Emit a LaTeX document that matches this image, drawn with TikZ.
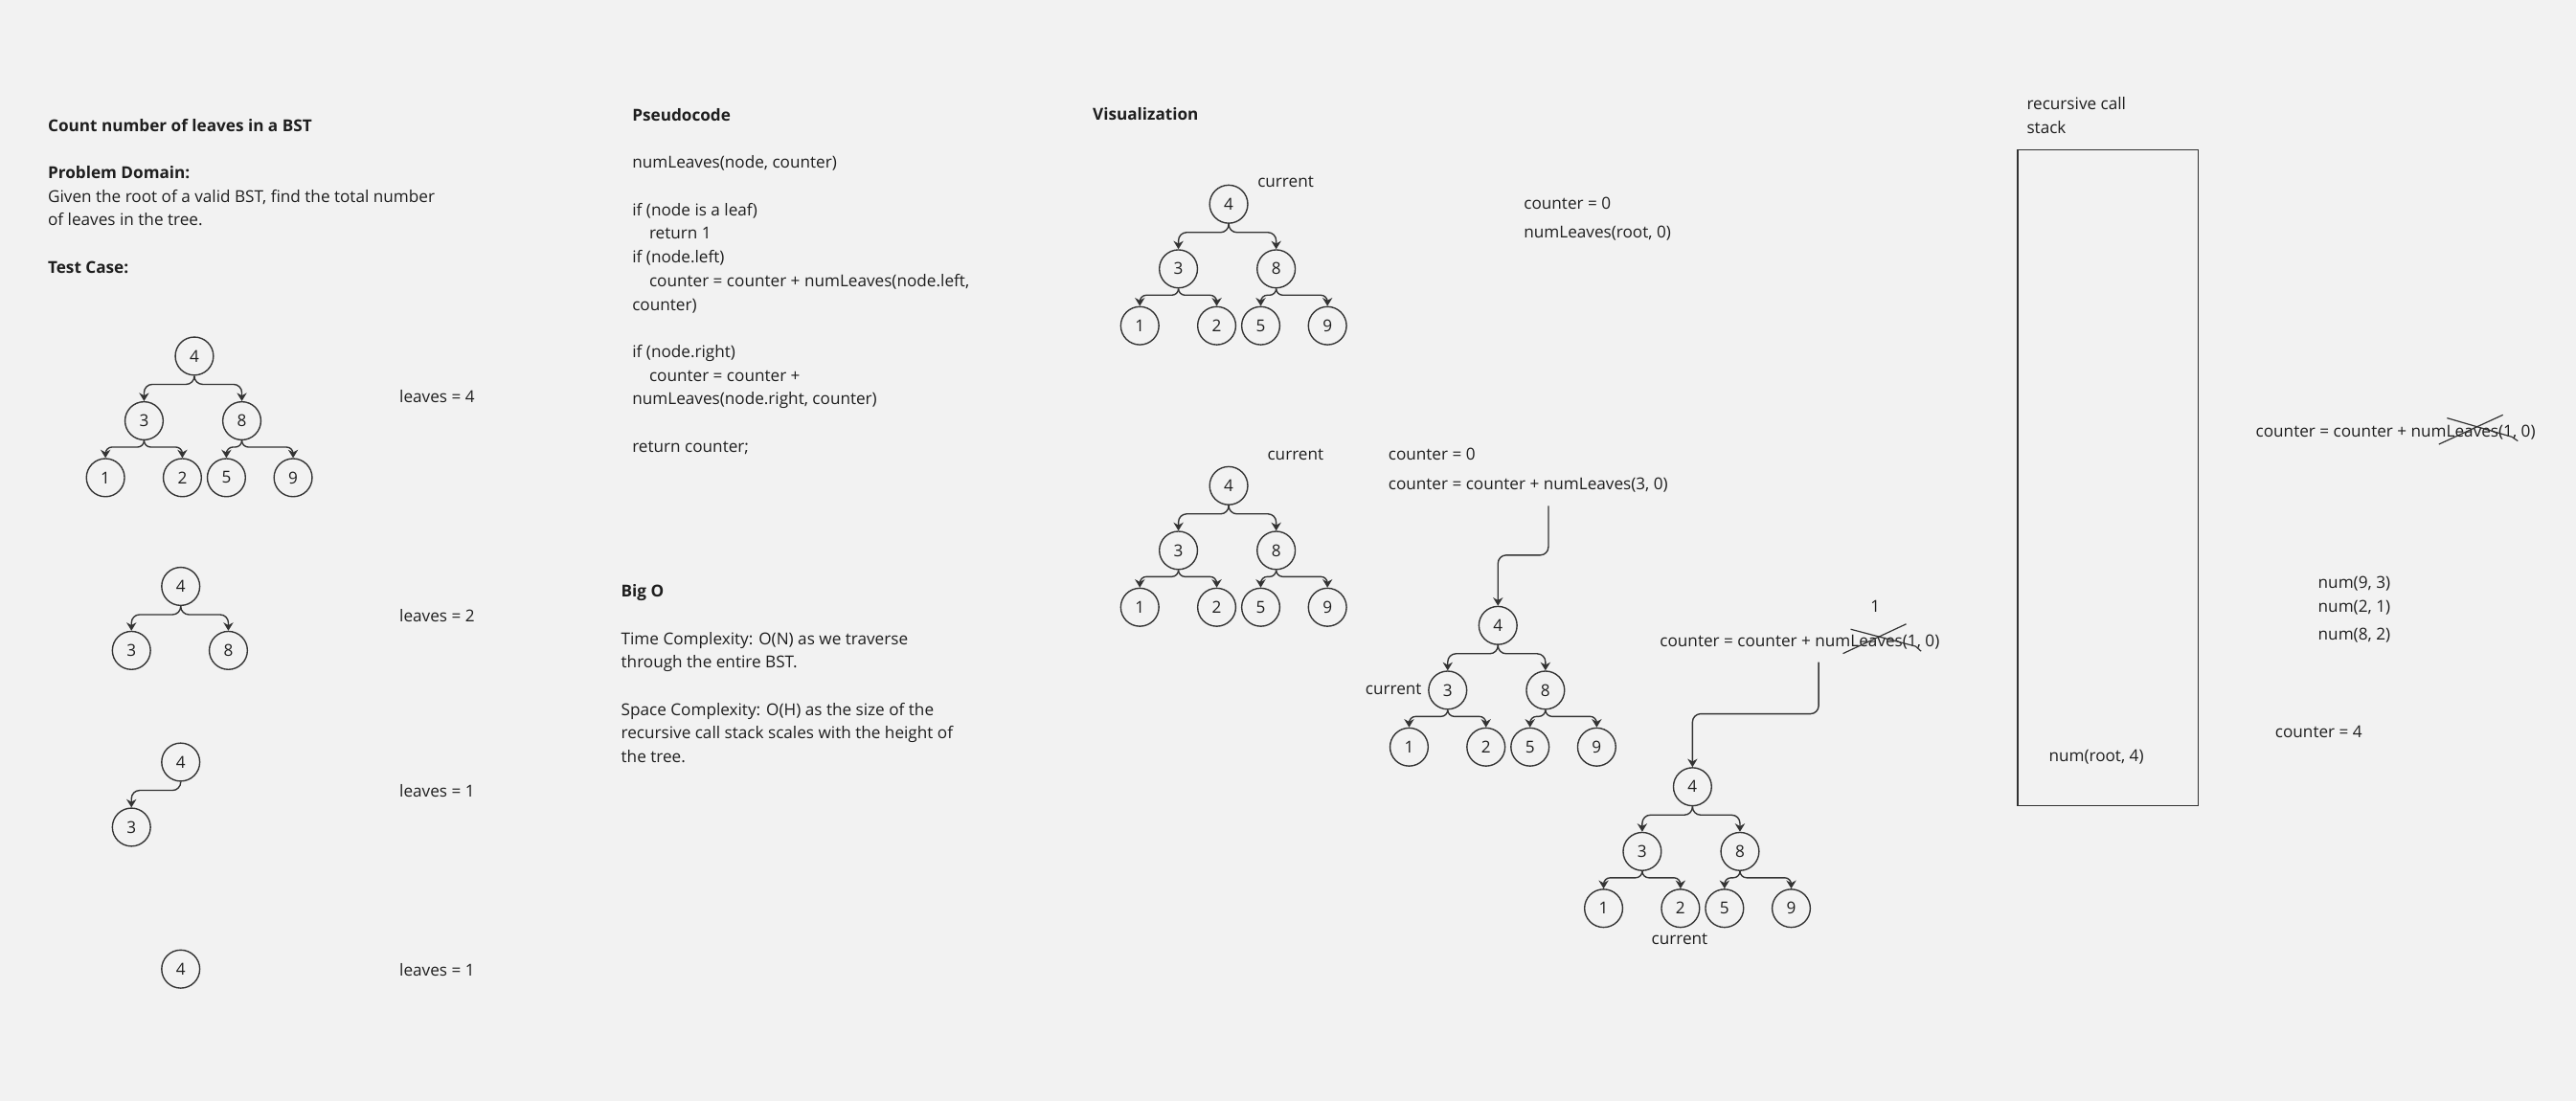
\documentclass[tikz,border=0pt]{standalone}
\usepackage{fontspec}
\setmainfont{Open Sans}
\usetikzlibrary{arrows.meta}
\definecolor{bg}{HTML}{F2F2F2}
\definecolor{ink}{HTML}{1E1E1E}
\definecolor{ln}{HTML}{333333}
\newcommand\fs{\fontsize{10}{14.4}\selectfont}
\tikzset{
  txt/.style={anchor=base west, inner sep=0pt, align=left, font=\fs, text=ink},
  tn/.style={circle, draw=ln, line width=0.8pt, minimum size=23.2pt, inner sep=0pt, font=\fs, text=ink},
  edge/.style={draw=ln, line width=0.8pt, rounded corners=4pt, -{Stealth[length=5pt,width=6pt]}},
  topedge/.style={edge, rounded corners=5pt},
  longedge/.style={draw=ln, line width=0.8pt, rounded corners=5pt, -{Stealth[length=5pt,width=6pt]}},
  cross/.style={draw=ln, line width=0.7pt},
}
\newcommand\fulltree[3]{%
  \node[tn] (#1r) at (#2,#3) {4};
  \node[tn] (#1a) at (#2-30.6,#3+39.4) {3};
  \node[tn] (#1b) at (#2+28.9,#3+39.4) {8};
  \node[tn] (#1c) at (#2-54.1,#3+74) {1};
  \node[tn] (#1d) at (#2-7.3,#3+74) {2};
  \node[tn] (#1e) at (#2+19.5,#3+74) {5};
  \node[tn] (#1f) at (#2+60.1,#3+74) {9};
  \draw[topedge] (#1r.south) -- ++(0,5.2) -| (#1a.north);
  \draw[topedge] (#1r.south) -- ++(0,5.2) -| (#1b.north);
  \draw[edge] (#1a.south) -- ++(0,4) -| (#1c.north);
  \draw[edge] (#1a.south) -- ++(0,4) -| (#1d.north);
  \draw[edge] (#1b.south) -- ++(0,4) -| (#1e.north);
  \draw[edge] (#1b.south) -- ++(0,4) -| (#1f.north);
}
\begin{document}
\begin{tikzpicture}[x=1pt,y=-1pt]
\fill[bg] (0,0) rectangle (1568,670.3);
\useasboundingbox (0,0) rectangle (1568,670.3);

% ---------- left column ----------
\node[txt] (intro) at (29,166.3) {\textbf{Count number of leaves in a BST}\\[14.4pt]
  \textbf{Problem Domain:}\\
  Given the root of a valid BST, find the total number\\
  of leaves in the tree.\\[14.4pt]
  \textbf{Test Case:}};

\fulltree{t}{118.3}{216.8}
\node[txt] (l1) at (243,245.3) {leaves = 4};

\node[tn] (ur) at (110,357) {4};
\node[tn] (ua) at (80,396) {3};
\node[tn] (ub) at (139,396) {8};
\draw[topedge] (ur.south) -- ++(0,5.2) -| (ua.north);
\draw[topedge] (ur.south) -- ++(0,5.2) -| (ub.north);
\node[txt] (l2) at (243,378.3) {leaves = 2};

\node[tn] (wr) at (110,464) {4};
\node[tn] (wa) at (80,503.6) {3};
\draw[topedge] (wr.south) -- ++(0,5.2) -| (wa.north);
\node[txt] (l3) at (243,485.3) {leaves = 1};

\node[tn] (zr) at (110,590) {4};
\node[txt] (l4) at (243,594.3) {leaves = 1};

% ---------- pseudocode ----------
\node[txt] (pseudo) at (384.7,275.3) {\textbf{Pseudocode}\\[14.4pt]
  numLeaves(node, counter)\\[14.4pt]
  if (node is a leaf)\\
  \hspace*{10.3pt}return 1\\
  if (node.left)\\
  \hspace*{10.3pt}counter = counter + numLeaves(node.left,\\
  counter)\\[14.4pt]
  if (node.right)\\
  \hspace*{10.3pt}counter = counter +\\
  numLeaves(node.right, counter)\\[14.4pt]
  return counter;};

\node[txt] (bigo) at (377.9,464.3) {\textbf{Big O}\\[14.4pt]
  Time Complexity: O(N) as we traverse\\
  through the entire BST.\\[14.4pt]
  Space Complexity: O(H) as the size of the\\
  recursive call stack scales with the height of\\
  the tree.};

% ---------- visualization ----------
\node[txt] (vis) at (665,73.3) {\textbf{Visualization}};

\fulltree{p}{747.9}{124.3}
\node[txt] (cur1) at (765.3,114) {current};
\node[txt] (c1a) at (927.4,127.1) {counter = 0};
\node[txt] (c1b) at (927.4,145.1) {numLeaves(root, 0)};

\fulltree{q}{747.9}{295.7}
\node[txt] (cur2) at (771.3,279.8) {current};
\node[txt] (c2a) at (844.9,279.8) {counter = 0};
\node[txt] (c2b) at (844.9,298.4) {counter = counter + numLeaves(3, 0)};
\coordinate (s1) at (942.5,308);

\fulltree{m}{911.8}{380.8}
\draw[longedge] (s1) -- ++(0,30) -| (mr.north);
\node[txt, anchor=base east] (cur3) at (865.5,423) {current};
\node[txt, anchor=base] (one) at (1141.5,372.5) {1};
\node[txt] (c3) at (1010.2,393.8) {counter = counter + numLeaves(1, 0)};
\draw[cross] (1121.8,397.9) -- (1160.3,379.9);
\draw[cross] (1126.5,383.1) -- (1166,393.5) -- (1169.4,396.5);
\coordinate (s2) at (1107,403.2);

\fulltree{n}{1030.2}{479}
\draw[longedge] (s2) -- ++(0,31.4) -| (nr.north);
\node[txt, anchor=base] (cur4) at (1022.4,575.1) {current};

% ---------- call stack ----------
\node[txt] (rcs) at (1233.5,81.4) {recursive call\\stack};
\node[draw=ln, line width=0.8pt, minimum width=109.8pt, minimum height=399.3pt,
      inner sep=0pt, anchor=north west] (stack) at (1227.8,90.9) {};
\node[txt] (root4) at (1246.9,463.4) {num(root, 4)};

\node[txt] (c4) at (1372.9,266.2) {counter = counter + numLeaves(1, 0)};
\draw[cross] (1484.5,270.5) -- (1523.5,252.6);
\draw[cross] (1489.5,254.5) -- (1529,266) -- (1532.6,268.5);
\node[txt] (n93) at (1410.8,357.9) {num(9, 3)};
\node[txt] (n21) at (1410.8,372.5) {num(2, 1)};
\node[txt] (n82) at (1410.8,389.4) {num(8, 2)};
\node[txt] (cnt4) at (1384.7,449.2) {counter = 4};
\end{tikzpicture}
\end{document}
